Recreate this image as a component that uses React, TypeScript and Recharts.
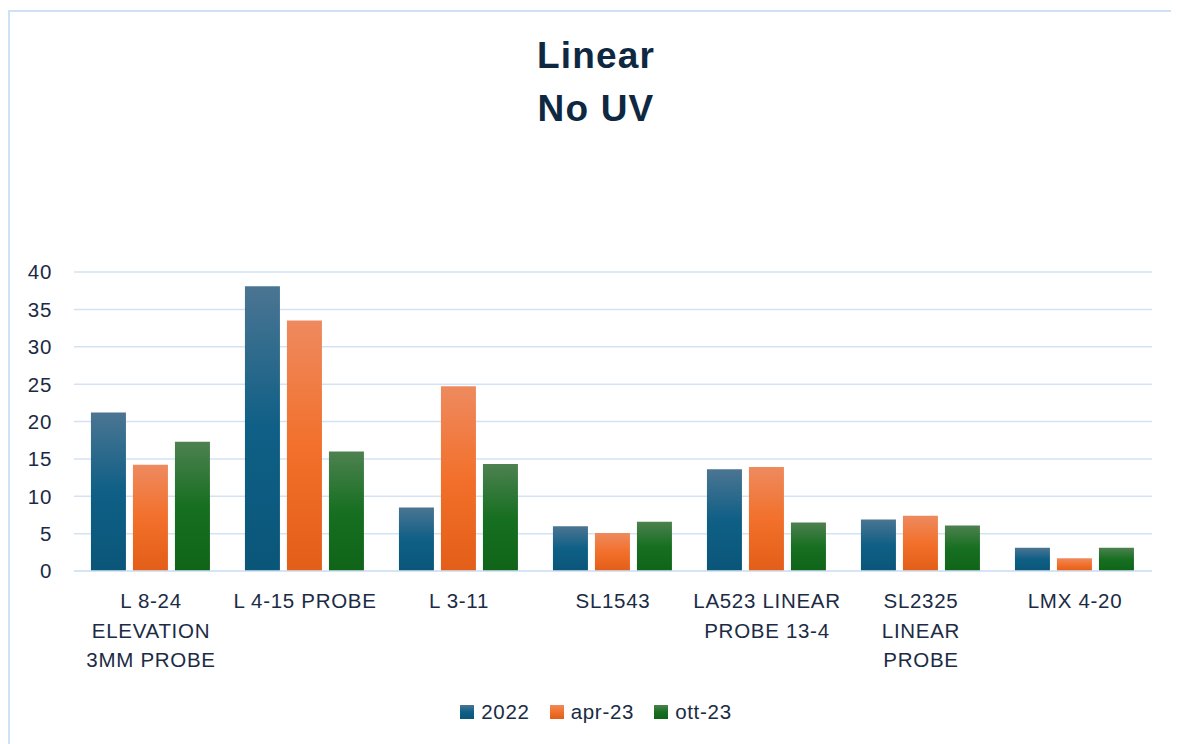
import React from "react";
import { BarChart, Bar, XAxis, YAxis, CartesianGrid } from "recharts";

const categories = [
  "L 8-24 ELEVATION 3MM PROBE",
  "L 4-15 PROBE",
  "L 3-11",
  "SL1543",
  "LA523 LINEAR PROBE 13-4",
  "SL2325 LINEAR PROBE",
  "LMX 4-20",
];
const tickLabelLines: string[][] = [
  ["L 8-24", "ELEVATION", "3MM PROBE"],
  ["L 4-15 PROBE"],
  ["L 3-11"],
  ["SL1543"],
  ["LA523 LINEAR", "PROBE 13-4"],
  ["SL2325", "LINEAR", "PROBE"],
  ["LMX 4-20"],
];
const series2022 = [21.2, 38.1, 8.5, 6.0, 13.6, 6.9, 3.1];
const seriesApr23 = [14.2, 33.5, 24.7, 5.1, 13.9, 7.4, 1.7];
const seriesOtt23 = [17.3, 16.0, 14.3, 6.6, 6.5, 6.1, 3.1];
const yTicks = [0, 5, 10, 15, 20, 25, 30, 35, 40];
const seriesNames = ["2022", "apr-23", "ott-23"];
const seriesKeys = ["s2022", "sApr23", "sOtt23"];
const gradients = [
  ["#4b7592", "#0f5f86", "#0a5679"],
  ["#ee8a5f", "#f2702b", "#e35e18"],
  ["#4d8150", "#176f21", "#0f6418"],
];

const data = categories.map((c, i) => ({
  name: c,
  idx: i,
  s2022: series2022[i],
  sApr23: seriesApr23[i],
  sOtt23: seriesOtt23[i],
}));

const FONT = "'Liberation Sans', Arial, sans-serif";
const TEXT = "#1b2b45";
const FS = 20.5;
const LS = 0.7;

const XTick = (props: any) => {
  const { x, y, payload } = props;
  const i = categories.indexOf(payload.value);
  const lines = tickLabelLines[i] || [payload.value];
  return (
    <text x={x} y={y + 37} textAnchor="middle" fill={TEXT} fontSize={FS} fontFamily={FONT} letterSpacing={LS}>
      {lines.map((l, k) => (
        <tspan key={k} x={x} dy={k === 0 ? 0 : 29.5}>
          {l}
        </tspan>
      ))}
    </text>
  );
};

const YTick = (props: any) => {
  const { x, y, payload } = props;
  return (
    <text x={x - 1} y={y} dy="0.36em" textAnchor="end" fill={TEXT} fontSize={FS} fontFamily={FONT} letterSpacing={LS}>
      {payload.value}
    </text>
  );
};

export default function App() {
  return (
    <div
      style={{
        position: "relative",
        marginTop: 2,
        width: 1171,
        height: 734,
        borderLeft: "2px solid #cfe1f4",
        borderTop: "2px solid #cfe1f4",
        background: "#fff",
        fontFamily: FONT,
      }}
    >
      <div
        style={{
          position: "absolute",
          left: 0,
          width: 1172,
          top: 17,
          textAlign: "center",
          color: "#0e2841",
          fontWeight: "bold",
          fontSize: 37,
          letterSpacing: 1.2,
          lineHeight: "53px",
        }}
      >
        <div>Linear</div>
        <div>No UV</div>
      </div>
      <div style={{ position: "absolute", left: 0, top: 0 }}>
        <BarChart
          width={1169}
          height={732}
          data={data}
          margin={{ top: 260, right: 27, left: 0, bottom: 63 }}
          barCategoryGap="11%"
          barGap={7}
        >
          <defs>
            {gradients.map((g, i) => (
              <linearGradient key={i} id={`grad${i}`} x1="0" y1="0" x2="0" y2="1">
                <stop offset="0%" stopColor={g[0]} />
                <stop offset="50%" stopColor={g[1]} />
                <stop offset="100%" stopColor={g[2]} />
              </linearGradient>
            ))}
          </defs>
          <CartesianGrid vertical={false} stroke="#d3e3f4" strokeWidth={1.5} />
          <XAxis
            dataKey="name"
            axisLine={{ stroke: "#d3e3f4", strokeWidth: 1.5 }}
            tickLine={false}
            tickSize={0}
            tickMargin={0}
            height={110}
            interval={0}
            tick={<XTick />}
          />
          <YAxis
            domain={[0, 40]}
            ticks={yTicks}
            axisLine={false}
            tickLine={false}
            tickSize={0}
            tickMargin={21}
            width={64}
            interval={0}
            tick={<YTick />}
          />
          {seriesKeys.map((k, i) => (
            <Bar key={k} dataKey={k} name={seriesNames[i]} fill={`url(#grad${i})`} isAnimationActive={false} />
          ))}
        </BarChart>
      </div>
      <div
        style={{
          position: "absolute",
          top: 688,
          left: 0,
          width: 1172,
          display: "flex",
          justifyContent: "center",
          alignItems: "center",
          gap: 20,
          color: TEXT,
          fontSize: FS,
          letterSpacing: LS,
        }}
      >
        {seriesNames.map((n, i) => (
          <div key={n} style={{ display: "flex", alignItems: "center", gap: 7 }}>
            <div
              style={{
                width: 14,
                height: 14,
                background: `linear-gradient(${gradients[i][0]}, ${gradients[i][1]}, ${gradients[i][2]})`,
              }}
            />
            <span>{n}</span>
          </div>
        ))}
      </div>
    </div>
  );
}
